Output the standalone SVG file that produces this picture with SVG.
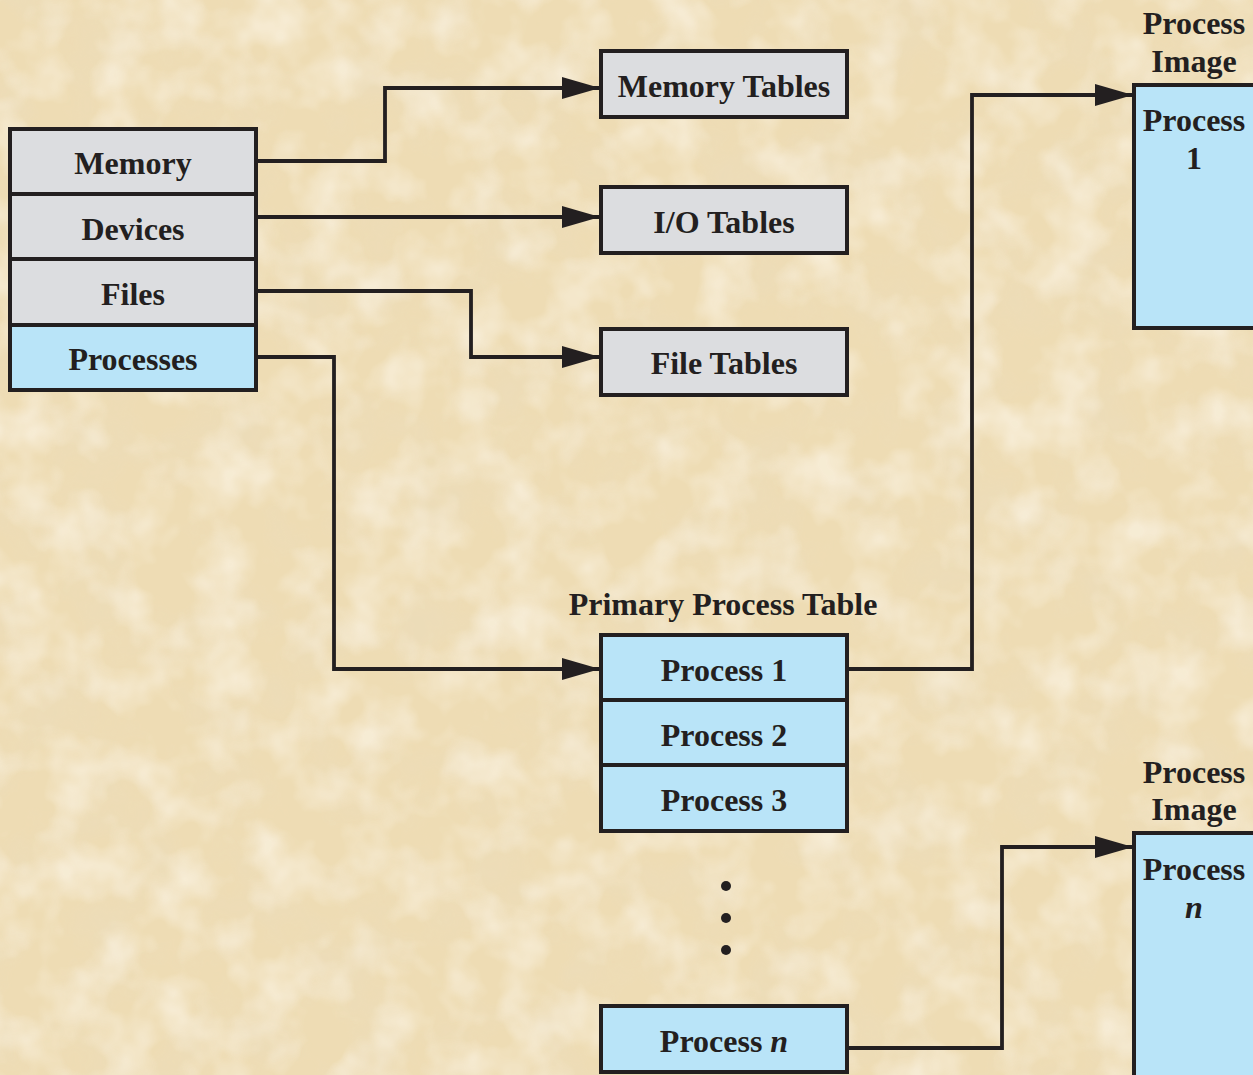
<svg xmlns="http://www.w3.org/2000/svg" width="1253" height="1075" viewBox="0 0 1253 1075">
  <defs>
    <filter id="parch" x="0" y="0" width="100%" height="100%">
      <feTurbulence type="fractalNoise" baseFrequency="0.015" numOctaves="4" seed="7" result="n"/>
      <feColorMatrix in="n" type="matrix" values="0 0 0 0 0.84  0 0 0 0 0.72  0 0 0 0 0.50  0 0 0 2.4 -1.0"/>
    </filter>
    <filter id="parch2" x="0" y="0" width="100%" height="100%">
      <feTurbulence type="fractalNoise" baseFrequency="0.02" numOctaves="3" seed="21" result="n"/>
      <feColorMatrix in="n" type="matrix" values="0 0 0 0 1  0 0 0 0 0.97  0 0 0 0 0.9  0 0 0 2.4 -1.0"/>
    </filter>
    <marker id="arr" markerUnits="userSpaceOnUse" markerWidth="40" markerHeight="22" refX="38" refY="11" orient="auto">
      <path d="M0,0 L38,11 L0,22 Z" fill="#231f20"/>
    </marker>
    <style>
      .box { stroke: #231f20; stroke-width: 4; }
      .gray { fill: #dcdde0; }
      .blue { fill: #b9e4f8; }
      .t { font-family: "Liberation Serif", "Times New Roman", serif; font-weight: bold; font-size: 32px; fill: #231f20; text-anchor: middle; }
      .conn { fill: none; stroke: #231f20; stroke-width: 3.8; }
    </style>
  </defs>
  <rect width="1253" height="1075" fill="#eedcb4"/>
  <rect width="1253" height="1075" filter="url(#parch)" opacity="0.6"/>
  <rect width="1253" height="1075" filter="url(#parch2)" opacity="0.5"/>

  <g id="resources">
    <g id="memory"><rect class="box gray" x="10" y="129" width="246" height="65"/><text class="t" x="133" y="174">Memory</text></g>
    <g id="devices"><rect class="box gray" x="10" y="194" width="246" height="65"/><text class="t" x="133" y="240">Devices</text></g>
    <g id="files"><rect class="box gray" x="10" y="259" width="246" height="66"/><text class="t" x="133" y="305">Files</text></g>
    <g id="processes"><rect class="box blue" x="10" y="325" width="246" height="65"/><text class="t" x="133" y="370">Processes</text></g>
  </g>

  <g id="memory-tables"><rect class="box gray" x="601" y="51" width="246" height="66"/><text class="t" x="724" y="97">Memory Tables</text></g>
  <g id="io-tables"><rect class="box gray" x="601" y="187" width="246" height="66"/><text class="t" x="724" y="233">I/O Tables</text></g>
  <g id="file-tables"><rect class="box gray" x="601" y="329" width="246" height="66"/><text class="t" x="724" y="374">File Tables</text></g>

  <g id="primary-process-table">
    <text class="t" x="723" y="615">Primary Process Table</text>
    <g id="process1"><rect class="box blue" x="601" y="635" width="246" height="65"/><text class="t" x="724" y="681">Process 1</text></g>
    <g id="process2"><rect class="box blue" x="601" y="700" width="246" height="65"/><text class="t" x="724" y="746">Process 2</text></g>
    <g id="process3"><rect class="box blue" x="601" y="765" width="246" height="66"/><text class="t" x="724" y="811">Process 3</text></g>
    <g id="dots" fill="#231f20"><circle cx="726" cy="886" r="5"/><circle cx="726" cy="918" r="5"/><circle cx="726" cy="950" r="5"/></g>
    <g id="processn"><rect class="box blue" x="601" y="1006" width="246" height="66"/><text class="t" x="724" y="1052">Process <tspan font-style="italic">n</tspan></text></g>
  </g>

  <g id="image1">
    <text class="t" x="1194" y="34">Process</text>
    <text class="t" x="1194" y="72">Image</text>
    <rect class="box blue" x="1134" y="85" width="130" height="243"/>
    <text class="t" x="1194" y="131">Process</text>
    <text class="t" x="1194" y="169">1</text>
  </g>
  <g id="imagen">
    <text class="t" x="1194" y="783">Process</text>
    <text class="t" x="1194" y="820">Image</text>
    <rect class="box blue" x="1134" y="833" width="130" height="260"/>
    <text class="t" x="1194" y="880">Process</text>
    <text class="t" x="1194" y="918" font-style="italic">n</text>
  </g>

  <g id="connectors">
    <path class="conn" marker-end="url(#arr)" d="M256,161 H385 V88 H600"/>
    <path class="conn" marker-end="url(#arr)" d="M256,217 H600"/>
    <path class="conn" marker-end="url(#arr)" d="M256,291 H471 V357 H600"/>
    <path class="conn" marker-end="url(#arr)" d="M256,357 H334 V669 H600"/>
    <path class="conn" marker-end="url(#arr)" d="M847,669 H972 V95 H1133"/>
    <path class="conn" marker-end="url(#arr)" d="M847,1048 H1002 V847 H1133"/>
  </g>
</svg>
